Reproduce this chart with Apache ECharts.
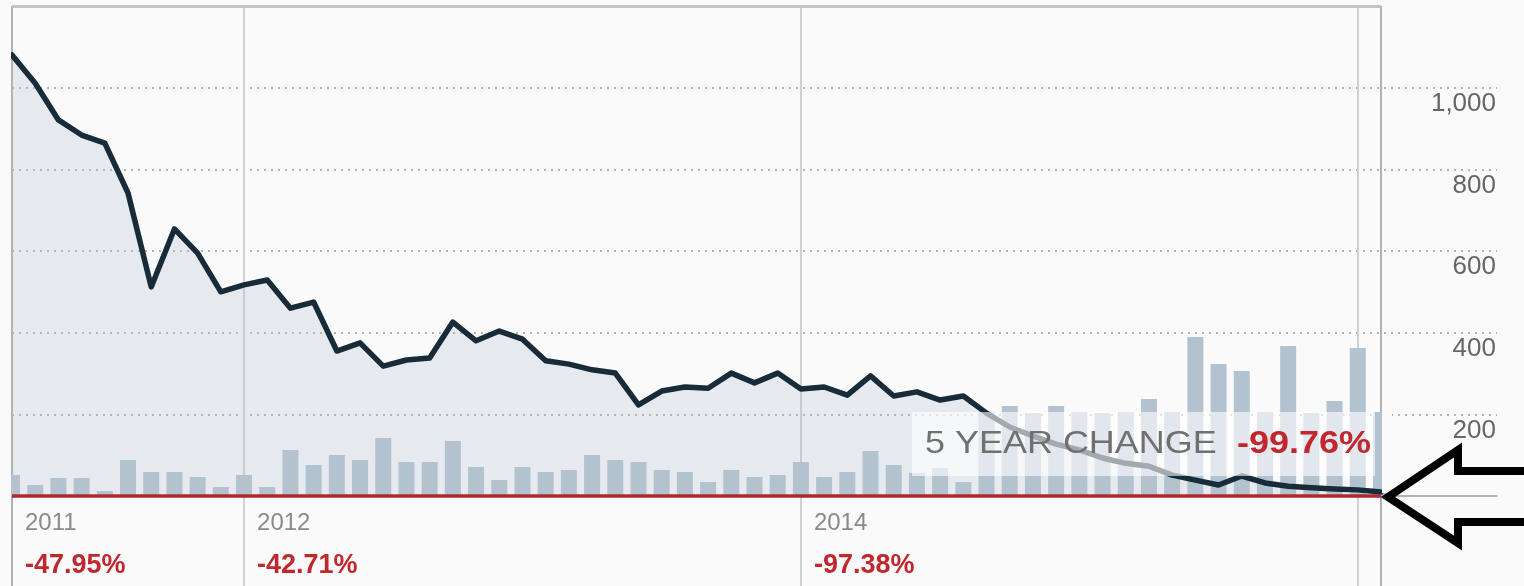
<!DOCTYPE html>
<html><head><meta charset="utf-8">
<script src="https://cdn.jsdelivr.net/npm/echarts@6/dist/echarts.min.js"></script>
<style>html,body{margin:0;padding:0;background:#fafafa}#c{width:1524px;height:586px}</style>
</head><body><div id="c"></div>
<script>
// ---- data ----
const months = [
 '2011-03','2011-04','2011-05','2011-06','2011-07','2011-08','2011-09','2011-10','2011-11','2011-12',
 '2012-01','2012-02','2012-03','2012-04','2012-05','2012-06','2012-07','2012-08','2012-09','2012-10','2012-11','2012-12',
 '2013-01','2013-02','2013-03','2013-04','2013-05','2013-06','2013-07','2013-08','2013-09','2013-10','2013-11','2013-12',
 '2014-01','2014-02','2014-03','2014-04','2014-05','2014-06','2014-07','2014-08','2014-09','2014-10','2014-11','2014-12',
 '2015-01','2015-02','2015-03','2015-04','2015-05','2015-06','2015-07','2015-08','2015-09','2015-10','2015-11','2015-12',
 '2016-01','2016-02'];
const padMonths = ['2016-03','2016-04','2016-05','2016-06','2016-07'];
const price = [
 1080,1011,921,884,864,742,512,654,595,500,
 517,529,460,475,355,375,318,333,338,426,380,404,
 384,331,323,309,301,223,257,267,264,301,277,301,
 262,267,247,294,245,255,235,245,203,169,147,127,
 113,93,80,73,51,39,27,49,32,24,20,17,
 15,10];
const volume = [
 105,55,90,90,25,180,120,120,95,45,
 105,45,230,155,205,180,290,170,170,275,145,80,
 145,120,130,205,180,170,130,120,70,130,95,105,
 170,95,120,225,155,115,140,70,420,450,415,450,
 420,415,420,485,420,795,660,625,420,750,415,475,
 740,420];
const yTicks = [200,400,600,800,1000];
const labelMonths = ['2011-03','2012-01','2014-01'];
const yearLabels = ['2011','2012','2014'];
const yearChanges = ['-47.95%','-42.71%','-97.38%'];
const lineMonths = ['2011-03','2012-01','2014-01','2016-01','2016-02'];
const changeTitle = '5 YEAR CHANGE';
const changeValue = '-99.76%';

// ---- chart ----
const FONT = 'Liberation Sans, Arial, sans-serif';
const BG = '#fafafa';
const cats = months.concat(padMonths);
const chart = echarts.init(document.getElementById('c'), null, {renderer:'canvas'});
const vSplit = {
  show: true,
  interval: (i, v) => lineMonths.indexOf(v) >= 0,
  lineStyle: {color: ['#b2b2b2','#d0d0d0','#d0d0d0','#d0d0d0','#b2b2b2'], width: 2}
};
chart.setOption({
  backgroundColor: BG,
  animation: false,
  grid: [
    {left: 12, right: 27, top: 6, bottom: 90},
    {left: 12, right: 27, top: 496, bottom: 0}
  ],
  xAxis: [
    {gridIndex: 0, type: 'category', data: cats, boundaryGap: false,
     axisLine: {lineStyle: {color: '#9a9a9a', width: 1.5}},
     axisTick: {show: false},
     splitLine: vSplit,
     axisLabel: {
       interval: (i, v) => labelMonths.indexOf(v) >= 0,
       align: 'left', margin: 7, padding: [0, 0, 0, 13],
       formatter: (v) => { const k = labelMonths.indexOf(v); return k < 0 ? '' : '{y|' + yearLabels[k] + '}\n{p|' + yearChanges[k] + '}'; },
       rich: {
         y: {fontFamily: FONT, fontSize: 24, color: '#8a8a8a', lineHeight: 40},
         p: {fontFamily: FONT, fontSize: 27, fontWeight: 'bold', color: '#c0282e', lineHeight: 46}
       }
     }},
    {gridIndex: 1, type: 'category', data: cats, boundaryGap: false, position: 'top',
     axisLine: {show: false}, axisTick: {show: false}, axisLabel: {show: false},
     splitLine: vSplit}
  ],
  yAxis: [
    {gridIndex: 0, type: 'value', position: 'right', min: 0, max: 1200, interval: 200,
     axisLine: {show: false}, axisTick: {show: false},
     splitLine: {show: true, showMinLine: false, showMaxLine: false,
       lineStyle: {type: [2, 5], color: '#b3b3b3', width: 2}},
     axisLabel: {inside: true, margin: 1, verticalAlign: 'top', padding: [3, 0, 0, 0],
       fontFamily: FONT, fontSize: 26, color: '#666',
       formatter: (v) => yTicks.indexOf(v) >= 0 ? v.toLocaleString('en-US') : ''}},
    {gridIndex: 0, type: 'value', min: 0, max: 2450, show: false, splitLine: {show: false}},
    {gridIndex: 1, type: 'value', min: 0, max: 1, show: false, splitLine: {show: false}}
  ],
  series: [
    {name: 'area', type: 'line', xAxisIndex: 0, yAxisIndex: 0, data: price, symbol: 'none',
     lineStyle: {width: 0}, areaStyle: {color: 'rgba(176,192,210,0.38)'}, z: 1, silent: true},
    {name: 'volume', type: 'bar', xAxisIndex: 0, yAxisIndex: 1, data: volume, barWidth: 16,
     itemStyle: {color: '#b3c2cf'}, z: 3, silent: true},
    {name: 'price', type: 'line', xAxisIndex: 0, yAxisIndex: 0, data: price, symbol: 'none',
     lineStyle: {color: '#172b39', width: 5.5, join: 'round', cap: 'round'}, z: 4, silent: true,
     markLine: {symbol: 'none', silent: true, label: {show: false},
       data: [
         [{coord: [months[0], 0], lineStyle: {color: '#b0282d', width: 3.5, type: 'solid'}}, {coord: [months[months.length-1], 0]}],
         [{coord: [months[0], 1200], lineStyle: {color: '#c4c4c4', width: 3, type: 'solid'}}, {coord: [months[months.length-1], 1200]}]
       ]}},
    {type: 'line', xAxisIndex: 1, yAxisIndex: 2, data: []}
  ],
  graphic: [
    // masks trimming the half bars that spill past the plot frame
    {type: 'rect', z: 90, shape: {x: 0, y: 0, width: 11, height: 586}, style: {fill: BG}},
    {type: 'rect', z: 90, shape: {x: 1382, y: 380, width: 10, height: 113}, style: {fill: BG}},
    {type: 'rect', z: 100, shape: {x: 912, y: 412, width: 463, height: 64},
     style: {fill: 'rgba(255,255,255,0.6)'}},
    {type: 'text', z: 101, x: 925, y: 444, scaleX: 1.16,
     style: {text: changeTitle, font: '31px ' + FONT, fill: '#707070', verticalAlign: 'middle'}},
    {type: 'text', z: 101, x: 1237, y: 444, scaleX: 1.16,
     style: {text: changeValue, font: 'bold 31px ' + FONT, fill: '#c1272d', verticalAlign: 'middle'}},
    {type: 'polygon', z: 110,
     shape: {points: [[1388,497],[1458,450],[1458,471],[1530,471],[1530,522],[1458,522],[1458,543]]},
     style: {fill: 'none', stroke: '#000', lineWidth: 8, lineJoin: 'miter'}}
  ]
});
</script></body></html>
